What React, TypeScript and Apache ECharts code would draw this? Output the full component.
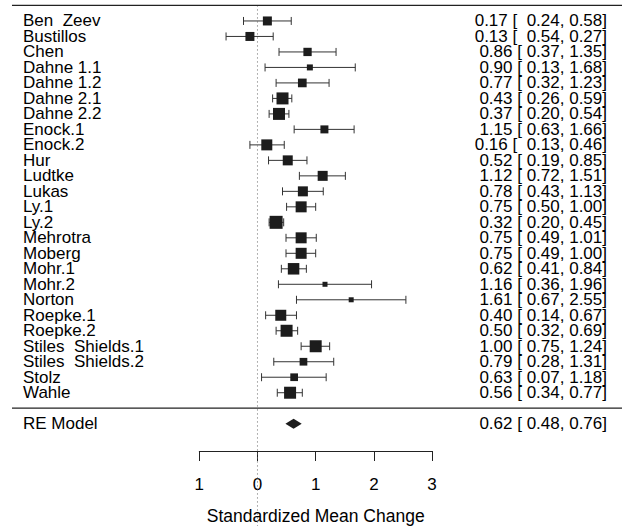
import React, { useEffect, useRef } from 'react';
import * as echarts from 'echarts';

const studies = ['Ben  Zeev', 'Bustillos', 'Chen', 'Dahne 1.1', 'Dahne 1.2', 'Dahne 2.1', 'Dahne 2.2', 'Enock.1', 'Enock.2', 'Hur', 'Ludtke', 'Lukas', 'Ly.1', 'Ly.2', 'Mehrotra', 'Moberg', 'Mohr.1', 'Mohr.2', 'Norton', 'Roepke.1', 'Roepke.2', 'Stiles  Shields.1', 'Stiles  Shields.2', 'Stolz', 'Wahle'];
const estimates = [0.17, -0.13, 0.86, 0.90, 0.77, 0.43, 0.37, 1.15, 0.16, 0.52, 1.12, 0.78, 0.75, 0.32, 0.75, 0.75, 0.62, 1.16, 1.61, 0.40, 0.50, 1.00, 0.79, 0.63, 0.56];
const lower = [-0.24, -0.54, 0.37, 0.13, 0.32, 0.26, 0.20, 0.63, -0.13, 0.19, 0.72, 0.43, 0.50, 0.20, 0.49, 0.49, 0.41, 0.36, 0.67, 0.14, 0.32, 0.75, 0.28, 0.07, 0.34];
const upper = [0.58, 0.27, 1.35, 1.68, 1.23, 0.59, 0.54, 1.66, 0.46, 0.85, 1.51, 1.13, 1.00, 0.45, 1.01, 1.00, 0.84, 1.96, 2.55, 0.67, 0.69, 1.24, 1.31, 1.18, 0.77];
const weights = [8, 8, 7.3, 5, 7.7, 11, 11, 7, 10, 9, 9, 9, 10, 12, 10, 10, 10.5, 4, 4, 10, 11, 11, 6.7, 6.7, 11];
const summaryLabel = 'RE Model';
const summaryEstimate = 0.62;
const summaryLower = 0.48;
const summaryUpper = 0.76;
const xTicks = [-1, 0, 1, 2, 3];
const xTitle = 'Standardized Mean Change';

const FONT = '"Liberation Sans", Arial, Helvetica, sans-serif';
const XL = -4.218;
const XR = 6.4;
const XMIN = -4.424;
const XMAX = 6.263;
const YMIN = -7.604;
const YMAX = 26.353;

const fmt = (v: number) => Math.abs(v).toFixed(2);
const annot = (e: number, l: number, u: number) =>
  `${fmt(e)} [${l < 0 ? '  ' : ' '}${fmt(l)}, ${fmt(u)}]`;

export default function App() {
  const ref = useRef<HTMLDivElement>(null);
  useEffect(() => {
    if (!ref.current) return;
    const chart = echarts.init(ref.current, undefined, { renderer: 'svg' });
    const k = studies.length;
    const studyData = studies.map((_, i) => [estimates[i], k - i, lower[i], upper[i], weights[i], i]);

    const textStyle = (text: string, align: string) => ({
      text,
      align,
      verticalAlign: 'middle',
      fontSize: 17,
      lineHeight: 14,
      fontFamily: FONT,
      fill: '#000',
    });

    const option: any = {
      animation: false,
      backgroundColor: '#fff',
      grid: [
        { left: 0, right: 0, top: 0, bottom: 0 },
        { left: 199.3, width: 232.8, top: 440, height: 11 },
      ],
      xAxis: [
        { gridIndex: 0, type: 'value', min: XMIN, max: XMAX, show: false },
        {
          gridIndex: 1,
          type: 'value',
          min: xTicks[0],
          max: xTicks[xTicks.length - 1],
          interval: 1,
          position: 'bottom',
          splitLine: { show: false },
          axisLine: { show: true, lineStyle: { color: '#222', width: 1 } },
          axisTick: { show: true, length: 10, inside: false, lineStyle: { color: '#222', width: 1 } },
          axisLabel: {
            formatter: (v: number) => String(Math.abs(v)),
            fontSize: 17,
            fontFamily: FONT,
            color: '#000',
            margin: 25,
          },
          name: xTitle,
          nameLocation: 'middle',
          nameGap: 56,
          nameTextStyle: { fontSize: 17.5, fontFamily: FONT, color: '#000' },
        },
      ],
      yAxis: [
        { gridIndex: 0, type: 'value', min: YMIN, max: YMAX, show: false },
        { gridIndex: 1, type: 'value', min: 0, max: 1, show: false },
      ],
      series: [
        {
          type: 'line',
          xAxisIndex: 0,
          yAxisIndex: 0,
          data: [[0, k + 1], [0, YMIN]],
          symbol: 'none',
          lineStyle: { color: '#666', width: 1, type: [1, 3] },
          silent: true,
        },
        {
          type: 'line',
          xAxisIndex: 0,
          yAxisIndex: 0,
          data: [[XL, k + 1], [XR, k + 1]],
          symbol: 'none',
          lineStyle: { color: '#222', width: 1.3 },
          silent: true,
        },
        {
          type: 'line',
          xAxisIndex: 0,
          yAxisIndex: 0,
          data: [[XL, 0], [XR, 0]],
          symbol: 'none',
          lineStyle: { color: '#222', width: 1.3 },
          silent: true,
        },
        {
          type: 'custom',
          xAxisIndex: 0,
          yAxisIndex: 0,
          data: studyData,
          renderItem: (params: any, api: any) => {
            const row = api.value(1);
            const idx = api.value(5);
            const [cx, cy] = api.coord([api.value(0), row]);
            const lo = api.coord([api.value(2), row])[0];
            const hi = api.coord([api.value(3), row])[0];
            const s = api.value(4) + 1;
            const left = api.coord([XL, row])[0];
            const right = api.coord([XMAX, row])[0];
            const stroke = { stroke: '#333', lineWidth: 1 };
            return {
              type: 'group',
              children: [
                { type: 'line', shape: { x1: lo, y1: cy, x2: hi, y2: cy }, style: stroke },
                { type: 'line', shape: { x1: lo, y1: cy - 4, x2: lo, y2: cy + 4 }, style: stroke },
                { type: 'line', shape: { x1: hi, y1: cy - 4, x2: hi, y2: cy + 4 }, style: stroke },
                { type: 'rect', shape: { x: cx - s / 2, y: cy - s / 2, width: s, height: s }, style: { fill: '#1c1c1c' } },
                { type: 'text', x: left + 11, y: cy, style: textStyle(studies[idx], 'left') },
                { type: 'text', x: right - 15, y: cy, style: textStyle(annot(estimates[idx], lower[idx], upper[idx]), 'right') },
              ],
            };
          },
        },
        {
          type: 'custom',
          xAxisIndex: 0,
          yAxisIndex: 0,
          data: [[summaryEstimate, -1, summaryLower, summaryUpper]],
          renderItem: (params: any, api: any) => {
            const row = api.value(1);
            const p1 = api.coord([api.value(2), row]);
            const p2 = api.coord([api.value(0), row + 0.32]);
            const p3 = api.coord([api.value(3), row]);
            const p4 = api.coord([api.value(0), row - 0.32]);
            const left = api.coord([XL, row])[0];
            const right = api.coord([XMAX, row])[0];
            return {
              type: 'group',
              children: [
                { type: 'polygon', shape: { points: [p1, p2, p3, p4] }, style: { fill: '#1c1c1c' } },
                { type: 'text', x: left + 11, y: p1[1], style: textStyle(summaryLabel, 'left') },
                { type: 'text', x: right - 15, y: p1[1], style: textStyle(annot(summaryEstimate, summaryLower, summaryUpper), 'right') },
              ],
            };
          },
        },
      ],
    };
    chart.setOption(option);
    return () => chart.dispose();
  }, []);
  return <div ref={ref} style={{ position: 'fixed', left: 0, top: 0, width: 622, height: 526 }} />;
}
